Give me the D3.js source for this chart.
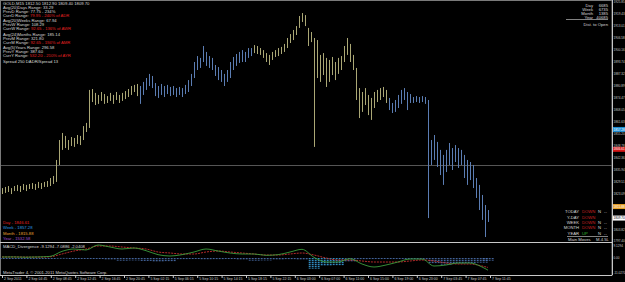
<!DOCTYPE html>
<html>
<head>
<meta charset="utf-8">
<script src="https://cdn.jsdelivr.net/npm/d3@7"></script>
<style>
html, body { margin: 0; padding: 0; background: #000; overflow: hidden; }
svg { display: block; }
text { font-family: "Liberation Sans", Arial, sans-serif; }
</style>
</head>
<body>
<div id="chart"></div>
<script>
// ---- data (GOLD, bars of ~30 min) ----
const barHigh = [
  1825.8,1826.4,1826.9,1825.8,1826.9,1827.5,1826.9,1828.0,1827.5,1828.0,
  1828.5,1828.0,1829.1,1828.5,1829.1,1829.6,1831.2,1832.3,1840.9,1851.6,
  1855.4,1853.8,1851.6,1853.2,1852.7,1854.3,1853.8,1859.1,1860.8,1878.5,
  1879.0,1876.9,1875.8,1877.4,1876.3,1875.2,1876.9,1875.8,1877.4,1875.8,
  1876.9,1877.9,1879.0,1880.6,1881.2,1881.7,1880.6,1882.8,1884.9,1887.1,
  1886.0,1882.2,1880.6,1881.7,1880.6,1881.2,1880.1,1880.6,1879.5,1880.1,
  1879.5,1881.2,1883.8,1887.1,1893.5,1896.7,1895.7,1902.1,1898.9,1896.7,
  1895.7,1891.9,1890.8,1889.2,1887.1,1889.2,1893.5,1896.2,1897.8,1898.9,
  1899.9,1898.9,1901.0,1901.0,1902.6,1902.1,1901.0,1899.9,1898.3,1897.3,
  1898.9,1899.9,1901.0,1901.6,1903.2,1906.4,1908.5,1910.7,1912.8,1918.2,
  1919.8,1918.7,1911.8,1909.6,1906.4,1905.3,1897.3,1898.3,1895.7,1894.6,
  1896.2,1893.5,1895.7,1896.7,1902.1,1906.4,1903.2,1897.3,1890.3,1879.5,
  1877.4,1879.5,1875.8,1874.2,1877.4,1878.5,1879.5,1880.1,1878.5,1874.2,
  1871.5,1873.1,1875.8,1878.5,1879.5,1877.4,1876.3,1874.7,1875.2,1874.7,
  1875.2,1874.7,1873.1,1851.6,1854.3,1850.6,1846.3,1843.6,1846.3,1850.0,
  1847.3,1848.9,1847.3,1846.3,1843.6,1840.9,1839.8,1838.2,1831.2,1827.5,
  1822.1,1816.7,1814.0
];
const barLow = [
  1822.6,1823.2,1823.7,1822.6,1824.2,1824.2,1823.7,1824.8,1824.2,1825.3,
  1825.3,1824.8,1825.8,1825.3,1826.4,1826.4,1826.9,1828.0,1829.1,1838.2,
  1846.3,1847.3,1846.3,1848.4,1847.9,1849.5,1848.9,1851.6,1855.9,1858.1,
  1872.0,1870.4,1871.0,1872.6,1871.0,1871.5,1872.6,1871.0,1873.1,1871.5,
  1872.6,1873.6,1874.7,1875.8,1877.4,1875.2,1871.0,1875.8,1878.5,1880.6,
  1879.5,1875.2,1874.2,1875.8,1874.7,1876.3,1875.2,1875.8,1874.7,1875.8,
  1874.7,1876.3,1877.4,1880.6,1884.9,1889.2,1890.3,1893.5,1891.4,1890.3,
  1889.2,1886.0,1883.8,1882.8,1880.6,1882.8,1884.9,1889.2,1891.4,1893.0,
  1893.5,1893.5,1895.7,1896.7,1898.3,1897.8,1897.3,1895.7,1893.5,1891.9,
  1894.6,1896.2,1896.7,1897.8,1898.9,1901.0,1903.7,1905.3,1908.0,1911.8,
  1915.0,1912.8,1902.1,1904.2,1847.9,1884.9,1882.8,1886.5,1880.1,1882.8,
  1886.5,1883.8,1887.1,1889.2,1893.5,1897.3,1893.5,1889.2,1873.1,1863.4,
  1866.7,1870.4,1865.0,1862.4,1868.8,1872.0,1873.1,1874.7,1871.5,1867.7,
  1866.1,1866.7,1868.8,1871.0,1873.1,1867.7,1871.5,1871.5,1872.0,1871.5,
  1872.0,1871.0,1809.7,1838.2,1840.9,1837.1,1832.8,1827.5,1834.4,1838.2,
  1835.5,1839.8,1836.6,1838.2,1831.2,1827.5,1830.1,1825.8,1820.5,1814.0,
  1808.7,1799.5,1807.6
];
// bar index where the bar colour flips (khaki -> blue -> khaki -> blue)
const trendBreaks = [46, 84, 129];

const priceTicks = [1925.85,1919.43,1913.01,1906.58,1900.16,1893.74,1887.32,1880.89,1874.47,1868.05,
  1861.63,1855.20,1848.78,1842.36,1835.94,1829.51,1823.09,1816.67,1810.25,1803.82,1797.40];

const levelNames = ["Day", "Week", "Month", "Year"];
const levelPrices = [1846.61, 1857.28, 1815.88, 1532.58];
const bidPrice = 1809.70;
const refLine = 1838.2;

const timeLabels = ["2 Sep 2011","2 Sep 04:45","2 Sep 08:45","2 Sep 12:45","2 Sep 16:45","2 Sep 20:45",
  "5 Sep 02:15","5 Sep 06:15","5 Sep 10:15","5 Sep 14:15","5 Sep 18:15","5 Sep 22:15",
  "6 Sep 03:00","6 Sep 07:00","6 Sep 11:00","6 Sep 15:00","6 Sep 19:00","6 Sep 23:00",
  "7 Sep 03:45","7 Sep 07:45","7 Sep 11:45"];

// MACD sampled every 4 bars
const macdBars = [0,4,8,12,16,20,24,28,32,36,40,44,48,52,56,60,64,68,72,76,80,84,88,92,96,100,
  104,108,112,116,120,124,128,132,136,140,144,148,152,156,160,162];
const macdMain = [0.75,0.8,0.6,0.8,1.2,5.0,6.75,6.0,9.75,8.25,6.75,7.5,5.5,2.5,1.5,2.5,4.5,6.75,5.25,3.75,
  3.0,3.0,2.0,2.5,4.5,6.5,0.5,-3.0,-3.0,-0.5,-4.5,-6.75,-5.25,-3.0,-0.75,-0.75,-6.0,-5.25,-3.75,-3.75,-6.75,-9.13];
const macdSignal = [0.75,0.8,0.7,0.7,0.9,3.0,5.25,6.75,9.0,9.0,8.25,7.5,6.75,4.5,3.75,3.0,3.0,4.5,5.25,4.5,
  3.75,3.0,2.25,2.25,3.0,3.75,2.25,0,-1.5,-1.5,-2.25,-3.0,-3.0,-3.0,-2.25,-1.5,-2.25,-3.75,-4.5,-4.5,-6.0,-7.09];
const macdHist = [-0.4,-0.5,-0.4,-0.5,-0.6,0.2,-0.3,-0.5,-0.6,-1.5,-2.0,-1.8,-2.2,-3.0,-2.5,-1.0,-0.8,-1.2,-1.0,-0.8,
  -1.5,-2.0,-1.8,-1.5,-1.0,-1.5,-8.0,-6.0,-5.5,-3.0,-1.0,-0.8,-0.6,-0.8,-1.0,-1.2,-4.0,-5.0,-4.5,-4.0,-3.5,-2.0];
const macdTicks = [9.1294, 0, -11.027];
const macdTickText = ["9.1294", "0.00", "-11.0270"];

// ---- layout ----
const svgWidth = 625, svgHeight = 282;
const axisX = 612;
const mainBottom = 242;
const subBottom = 275;
const khaki = "#aaa775", blue = "#5b7db3";
const fs = 4.2;      // panel text
const axisFs = 3.1;  // axis labels

const svg = d3.select("#chart").append("svg")
    .attr("width", svgWidth)
    .attr("height", svgHeight);

svg.append("rect").attr("width", svgWidth).attr("height", svgHeight).attr("fill", "#000");

// scales
const x = d3.scaleLinear().domain([0, barHigh.length - 1]).range([2, 488]);
const y = d3.scaleLinear().domain([1926.8, 1796.84]).range([0, mainBottom]);
const yMacd = d3.scaleLinear().domain([12, -12]).range([242, 274]);
const xTime = d3.scalePoint().domain(timeLabels).range([2, 490]);

// frame
svg.append("rect")
    .attr("x", 0.5).attr("y", 0.5)
    .attr("width", axisX - 0.5).attr("height", subBottom)
    .attr("fill", "none").attr("stroke", "#7a7a7a");
svg.append("line").attr("x1", 0).attr("x2", axisX).attr("y1", mainBottom + 0.5).attr("y2", mainBottom + 0.5)
    .attr("stroke", "#c8c8c8");
svg.append("line").attr("x1", 0).attr("x2", axisX).attr("y1", subBottom + 0.5).attr("y2", subBottom + 0.5)
    .attr("stroke", "#c8c8c8");
svg.append("line").attr("x1", axisX + 0.5).attr("x2", axisX + 0.5).attr("y1", 0).attr("y2", subBottom)
    .attr("stroke", "#c8c8c8");

// reference horizontal line
svg.append("line")
    .attr("x1", 1).attr("x2", axisX)
    .attr("y1", Math.round(y(refLine)) + 0.5).attr("y2", Math.round(y(refLine)) + 0.5)
    .attr("stroke", "#555");

// price bars
const barColor = i => {
    let n = trendBreaks.filter(b => i >= b).length;
    return n % 2 === 0 ? khaki : blue;
};
svg.append("g").selectAll("line")
    .data(barHigh)
    .enter()
    .append("line")
    .attr("x1", (d, i) => Math.round(x(i)) + 0.5)
    .attr("x2", (d, i) => Math.round(x(i)) + 0.5)
    .attr("y1", d => y(d))
    .attr("y2", (d, i) => y(barLow[i]))
    .attr("stroke", (d, i) => barColor(i))
    .attr("stroke-width", 1);

// price axis
const yAxisG = svg.append("g")
    .attr("transform", `translate(${axisX}, 0)`)
    .call(d3.axisRight(y).tickValues(priceTicks).tickFormat(d3.format(".2f")).tickSize(1));
yAxisG.select(".domain").remove();
yAxisG.selectAll("line").attr("stroke", "#c8c8c8");
yAxisG.selectAll("text").attr("fill", "#c8c8c8").attr("font-size", axisFs).attr("x", 1.5);

// level markers on the price axis
const levelColors = ["#d41818", "#1f8fd6", "#e8a028"];
levelPrices.slice(0, 3).forEach((p, i) => {
    const g = svg.append("g").attr("transform", `translate(${axisX + 1}, ${y(p)})`);
    g.append("rect").attr("x", 0).attr("y", -2.5).attr("width", 12).attr("height", 5).attr("fill", levelColors[i]);
    g.append("text").attr("x", 0.5).attr("y", 1.1).attr("font-size", axisFs).attr("fill", "#fff").text(d3.format(".2f")(p));
});
const bidG = svg.append("g").attr("transform", `translate(${axisX + 1}, ${y(bidPrice)})`);
bidG.append("rect").attr("x", 0).attr("y", -2.5).attr("width", 12).attr("height", 5).attr("fill", "#fff");
bidG.append("text").attr("x", 0.5).attr("y", 1.1).attr("font-size", axisFs).attr("fill", "#000").text(d3.format(".2f")(bidPrice));

// ---- MACD sub window ----
const defs = svg.append("defs");
const stripes = defs.append("pattern")
    .attr("id", "histStripes").attr("patternUnits", "userSpaceOnUse")
    .attr("width", 1.5).attr("height", 2);
stripes.append("rect").attr("width", 0.8).attr("height", 1.3).attr("fill", "#4d74b4");
const stripesHi = defs.append("pattern")
    .attr("id", "histStripesHi").attr("patternUnits", "userSpaceOnUse")
    .attr("width", 1.5).attr("height", 2);
stripesHi.append("rect").attr("width", 0.8).attr("height", 1.3).attr("fill", "#3aa6e6");

svg.append("g").selectAll("rect")
    .data(macdHist)
    .enter()
    .append("rect")
    .attr("x", (d, i) => x(macdBars[i]) - 6)
    .attr("width", 12)
    .attr("y", d => Math.min(yMacd(d), yMacd(0)))
    .attr("height", d => Math.max(1, Math.abs(yMacd(d) - yMacd(0))))
    .attr("fill", d => d < -5 ? "url(#histStripesHi)" : "url(#histStripes)");

const macdLine = d3.line()
    .x((d, i) => x(macdBars[i]))
    .y(d => yMacd(d))
    .curve(d3.curveMonotoneX);

svg.append("path").datum(macdSignal)
    .attr("d", macdLine).attr("fill", "none")
    .attr("stroke", "#c83030").attr("stroke-width", 0.9).attr("stroke-dasharray", "2,1");
svg.append("path").datum(macdMain)
    .attr("d", macdLine).attr("fill", "none")
    .attr("stroke", "#3c9c3c").attr("stroke-width", 0.9);

const macdAxisG = svg.append("g").attr("transform", `translate(${axisX}, 0)`);
macdTicks.forEach((v, i) => {
    macdAxisG.append("line").attr("x1", 0).attr("x2", 1).attr("y1", yMacd(v)).attr("y2", yMacd(v)).attr("stroke", "#c8c8c8");
    macdAxisG.append("text").attr("x", 1.5).attr("y", yMacd(v) + 1.1)
        .attr("font-size", axisFs).attr("fill", "#c8c8c8").text(macdTickText[i]);
});

// time axis
const xAxisG = svg.append("g")
    .attr("transform", `translate(0, ${subBottom})`)
    .call(d3.axisBottom(xTime).tickSize(3));
xAxisG.select(".domain").remove();
xAxisG.selectAll("line").attr("stroke", "#c8c8c8");
xAxisG.selectAll("text")
    .attr("fill", "#c8c8c8").attr("font-size", 3.5)
    .attr("text-anchor", "start").attr("x", 1.5).attr("y", 2.5).attr("dy", "0.71em");

// ---- text panels ----
const textColor = "#d8d8d8";
const infoRows = [
    ["GOLD,M15  1812.50 1812.90 1809.40 1809.70", ""],
    ["Avg(20)Days Range: 33.29", ""],
    ["PrevD Range: 77.75 - 234%", ""],
    ["CurrD Range: ", "79.95 - 240% of ADR"],
    ["Avg(20)Weeks Range: 67.94", ""],
    ["PrevW Range: 108.29", ""],
    ["CurrW Range: ", "92.65 - 136% of AWR"],
    ["Avg(24)Months Range: 185.14", ""],
    ["PrevM Range: 321.80", ""],
    ["CurrM Range: ", "92.65 - 194% of AMR"],
    ["Avg(5)Years Range: 296.58", ""],
    ["PrevY Range: 387.60", ""],
    ["CurrY Range: ", "532.20 - 210% of AYR"],
    ["Spread 250 DADR/Spread 13", ""]
];
const infoGroup = [0,0,0,0,1,1,1,2,2,2,3,3,3,4];
infoRows.forEach((r, i) => {
    const t = svg.append("text")
        .attr("x", 3).attr("y", 5 + i * 3.9 + infoGroup[i] * 1.8)
        .attr("font-size", fs).attr("fill", textColor);
    t.append("tspan").text(r[0]);
    if (r[1]) t.append("tspan").attr("fill", "#e02020").text(r[1]);
});

// counters at top right
const cntNames = ["Day", "Week", "Month", "Year"];
const cntValues = ["6685", "6735", "1385", "40685"];
cntNames.forEach((n, i) => {
    svg.append("text").attr("x", 593).attr("y", 6.5 + i * 4).attr("text-anchor", "end")
        .attr("font-size", fs).attr("fill", textColor).text(n);
    svg.append("text").attr("x", 608).attr("y", 6.5 + i * 4).attr("text-anchor", "end")
        .attr("font-size", fs).attr("fill", textColor).text(cntValues[i]);
});
svg.append("line").attr("x1", 566).attr("x2", 608).attr("y1", 19.5).attr("y2", 19.5).attr("stroke", textColor).attr("stroke-width", 0.6);
svg.append("text").attr("x", 608).attr("y", 25.8).attr("text-anchor", "end")
    .attr("font-size", fs).attr("fill", textColor).text("Dist. to Open");

// level legend bottom left
const legendColors = ["#e02020", "#2b9be0", "#e8a030", "#a050d0"];
levelNames.forEach((n, i) => {
    svg.append("text").attr("x", 3).attr("y", 223.5 + i * 5.6)
        .attr("font-size", fs).attr("fill", legendColors[i])
        .text(`${n} - ${d3.format(".2f")(levelPrices[i])}`);
});

// direction table bottom right
const dirNames = ["TODAY", "Y-DAY", "WEEK", "MONTH", "YEAR"];
const dirStates = ["DOWN", "DOWN", "DOWN", "DOWN", "UP"];
const dirFlags = ["N", "", "N", "N", "N"];
dirNames.forEach((n, i) => {
    const ty = 213.2 + i * 5.4;
    svg.append("text").attr("x", 579).attr("y", ty).attr("text-anchor", "end")
        .attr("font-size", fs).attr("fill", textColor).text(n);
    svg.append("text").attr("x", 582).attr("y", ty)
        .attr("font-size", fs).attr("fill", dirStates[i] === "UP" ? "#30b030" : "#d02020").text(dirStates[i]);
    if (dirFlags[i]) {
        svg.append("text").attr("x", 598).attr("y", ty).attr("font-size", fs).attr("fill", textColor).text(dirFlags[i]);
        svg.append("text").attr("x", 604).attr("y", ty).attr("font-size", fs).attr("fill", textColor).text("--");
    }
});
svg.append("line").attr("x1", 567).attr("x2", 608).attr("y1", 236.5).attr("y2", 236.5).attr("stroke", textColor).attr("stroke-width", 0.6);
svg.append("text").attr("x", 568).attr("y", 240.5).attr("font-size", fs).attr("fill", textColor).text("Main Moves");
svg.append("text").attr("x", 596).attr("y", 240.5).attr("font-size", fs).attr("fill", textColor).text("M.4.5L");

// sub window captions
svg.append("text").attr("x", 3).attr("y", 248.2).attr("font-size", fs).attr("fill", textColor)
    .text("MACD_Divergence -9.1294 -7.0886 -2.0408");
svg.append("text").attr("x", 3).attr("y", 273.5).attr("font-size", fs).attr("fill", textColor)
    .text("MetaTrader 4, © 2001-2011 MetaQuotes Software Corp.");
</script>
</body>
</html>
